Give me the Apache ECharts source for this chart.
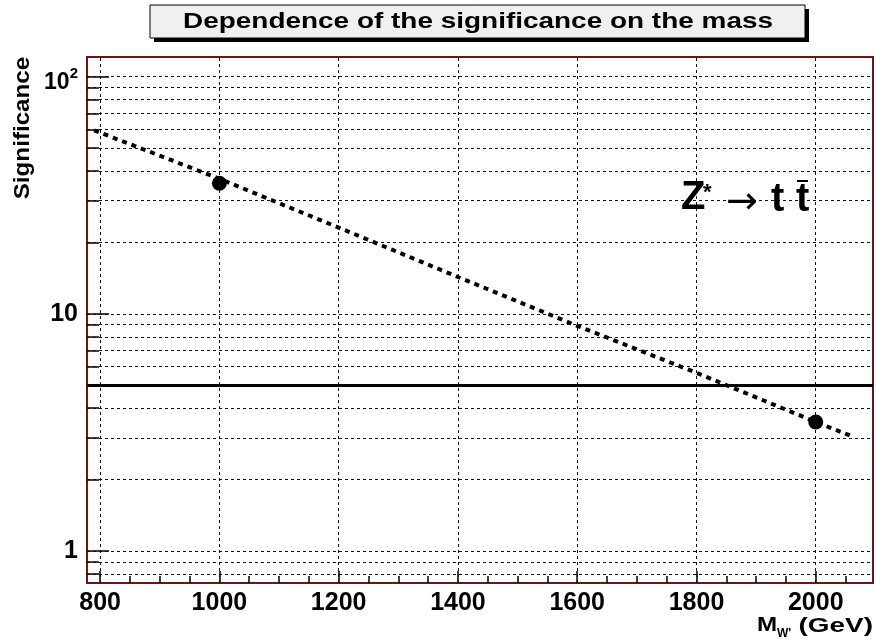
<!DOCTYPE html>
<html>
<head>
<meta charset="utf-8">
<script src="https://cdn.jsdelivr.net/npm/echarts@6/dist/echarts.min.js"></script>
<style>
  html, body { margin: 0; padding: 0; background: #fff; }
  #chart { width: 876px; height: 644px; }
</style>
</head>
<body>
<div id="chart"></div>
<script>
// Fitted significance curve (mass in GeV, significance)
const fitMass = [790, 1000, 1200, 1400, 1600, 1800, 2000, 2060];
const fitSignificance = [59.4, 37.1, 23.1, 14.3, 8.9, 5.64, 3.5, 3.05];

// Measured points
const pointMass = [1000, 2000];
const pointSignificance = [35.5, 3.5];

// 5-sigma discovery threshold
const discoveryThreshold = 5;

// Axis ranges and ticks
const xMin = 778, xMax = 2096;
const yMin = 0.733, yMax = 121;
const xMajorTicks = [800, 1000, 1200, 1400, 1600, 1800, 2000];
const xMinorTicks = [850, 900, 950, 1050, 1100, 1150, 1250, 1300, 1350, 1450, 1500, 1550,
                     1650, 1700, 1750, 1850, 1900, 1950, 2050];
const yMajorTicks = [1, 10, 100];
const yMinorTicks = [0.8, 0.9, 2, 3, 4, 5, 6, 7, 8, 9, 20, 30, 40, 50, 60, 70, 80, 90];
const yGridValues = [0.8, 0.9, 1, 2, 3, 4, 5, 6, 7, 8, 9, 10, 20, 30, 40, 50, 60, 70, 80, 90, 100];

const titleText = 'Dependence of the significance on the mass';

const FRAME = '#6e1414';
const FAMILY = 'Liberation Sans';
const FONT = '"Liberation Sans", Arial, sans-serif';

const chart = echarts.init(document.getElementById('chart'), null, { renderer: 'canvas' });

const gridLineData = yGridValues.map(v => ({ yAxis: v }))
  .concat(xMajorTicks.map(v => ({ xAxis: v })));

function label(text, x, y, font, extra) {
  return Object.assign({
    type: 'text', z: 12, x: x, y: y,
    style: { text: text, x: 0, y: 0, align: 'left', verticalAlign: 'middle', font: font, fill: '#000' }
  }, extra || {});
}

const option = {
  animation: false,
  backgroundColor: '#fff',
  grid: {
    left: 87, top: 57, width: 786, height: 526,
    show: true, backgroundColor: '#fff', borderColor: FRAME, borderWidth: 2,
    outerBoundsMode: 'none'
  },
  xAxis: [
    {
      type: 'value', min: xMin, max: xMax, position: 'bottom',
      axisLine: { show: true, lineStyle: { color: FRAME, width: 2 } },
      axisTick: { show: true, inside: true, length: 12, customValues: xMajorTicks,
                  lineStyle: { color: '#000', width: 1.5 } },
      axisLabel: { show: true, customValues: xMajorTicks, margin: 8,
                   formatter: v => String(Math.round(v)),
                   color: '#000', fontFamily: FAMILY, fontWeight: 'bold', fontSize: 25 },
      splitLine: { show: false }
    },
    {
      type: 'value', min: xMin, max: xMax, position: 'bottom',
      axisLine: { show: false },
      axisTick: { show: true, inside: true, length: 7, customValues: xMinorTicks,
                  lineStyle: { color: '#000', width: 1.5 } },
      axisLabel: { show: false },
      splitLine: { show: false }
    }
  ],
  yAxis: [
    {
      type: 'log', logBase: 10, min: yMin, max: yMax, position: 'left',
      axisLine: { show: true, lineStyle: { color: FRAME, width: 2 } },
      axisTick: { show: true, inside: true, length: 22, customValues: yMajorTicks,
                  lineStyle: { color: '#000', width: 1.5 } },
      axisLabel: {
        show: true, customValues: yMajorTicks, margin: 9,
        color: '#000', fontFamily: FAMILY, fontWeight: 'bold', fontSize: 25,
        formatter: v => (Math.abs(v - 100) < 1e-6 ? '{b|10}{s|2}' : String(Math.round(v))),
        rich: {
          b: { fontFamily: FAMILY, fontWeight: 'bold', fontSize: 23, color: '#000', padding: [12, 0, 0, 0] },
          s: { fontFamily: FAMILY, fontWeight: 'bold', fontSize: 15, color: '#000', padding: [0, 0, 6, 0] }
        }
      },
      splitLine: { show: false }
    },
    {
      type: 'log', logBase: 10, min: yMin, max: yMax, position: 'left',
      axisLine: { show: false },
      axisTick: { show: true, inside: true, length: 12, customValues: yMinorTicks,
                  lineStyle: { color: '#000', width: 1.5 } },
      axisLabel: { show: false },
      splitLine: { show: false }
    }
  ],
  series: [
    {
      // dotted grid
      name: 'grid', type: 'line', data: [], z: 1, silent: true,
      markLine: {
        silent: true, symbol: ['none', 'none'], label: { show: false },
        animation: false,
        lineStyle: { type: [3, 3], color: '#111', width: 1 },
        emphasis: { disabled: true },
        data: gridLineData
      }
    },
    {
      name: 'threshold', type: 'line', data: [], z: 2, silent: true,
      markLine: {
        silent: true, symbol: ['none', 'none'], label: { show: false },
        animation: false,
        lineStyle: { type: 'solid', color: '#000', width: 3 },
        emphasis: { disabled: true },
        data: [{ yAxis: discoveryThreshold }]
      }
    },
    {
      name: 'fit', type: 'line', z: 3, showSymbol: false, symbol: 'none',
      data: fitMass.map((m, i) => [m, fitSignificance[i]]),
      lineStyle: { type: [5, 5], color: '#000', width: 4 }
    },
    {
      name: 'points', type: 'scatter', z: 4, symbol: 'circle', symbolSize: 15,
      itemStyle: { color: '#000', opacity: 1 },
      data: pointMass.map((m, i) => [m, pointSignificance[i]])
    }
  ],
  graphic: [
    // title box with drop shadow
    { type: 'rect', z: 10, shape: { x: 154, y: 9, width: 655, height: 33 }, style: { fill: '#000' } },
    { type: 'rect', z: 11, shape: { x: 150, y: 5, width: 655, height: 33 },
      style: { fill: '#f0f0f0', stroke: '#000', lineWidth: 1 } },
    { type: 'text', z: 12, x: 478, y: 22, scaleX: 1.27,
      style: { text: titleText, x: 0, y: 0, align: 'center', verticalAlign: 'middle',
               font: 'bold 22px ' + FONT, fill: '#000' } },
    // y axis title
    { type: 'text', z: 12, x: 23, y: 128, rotation: Math.PI / 2, scaleX: 1.1,
      style: { text: 'Significance', x: 0, y: 0, align: 'center', verticalAlign: 'middle',
               font: 'bold 22px ' + FONT, fill: '#000' } },
    // x axis title: M_{W'} (GeV)
    label('M', 757, 625, 'bold 21px ' + FONT, { scaleX: 1.15 }),
    label("W'", 777, 634, 'bold 12px ' + FONT),
    { type: 'text', z: 12, x: 873, y: 626, scaleX: 1.33,
      style: { text: '(GeV)', x: 0, y: 0, align: 'right', verticalAlign: 'middle',
               font: 'bold 21px ' + FONT, fill: '#000' } },
    // process label Z* -> t tbar
    label('Z', 681, 198, 'bold 40px ' + FONT),
    label('*', 703, 193, 'bold 22px ' + FONT),
    label('\u2192', 726, 203, '38px "DejaVu Sans", sans-serif'),
    label('t', 771, 200, 'bold 40px ' + FONT),
    label('t', 796, 200, 'bold 40px ' + FONT),
    { type: 'line', z: 12, shape: { x1: 797, y1: 181, x2: 808, y2: 181 },
      style: { stroke: '#000', lineWidth: 2 } }
  ]
};

chart.setOption(option);
</script>
</body>
</html>
